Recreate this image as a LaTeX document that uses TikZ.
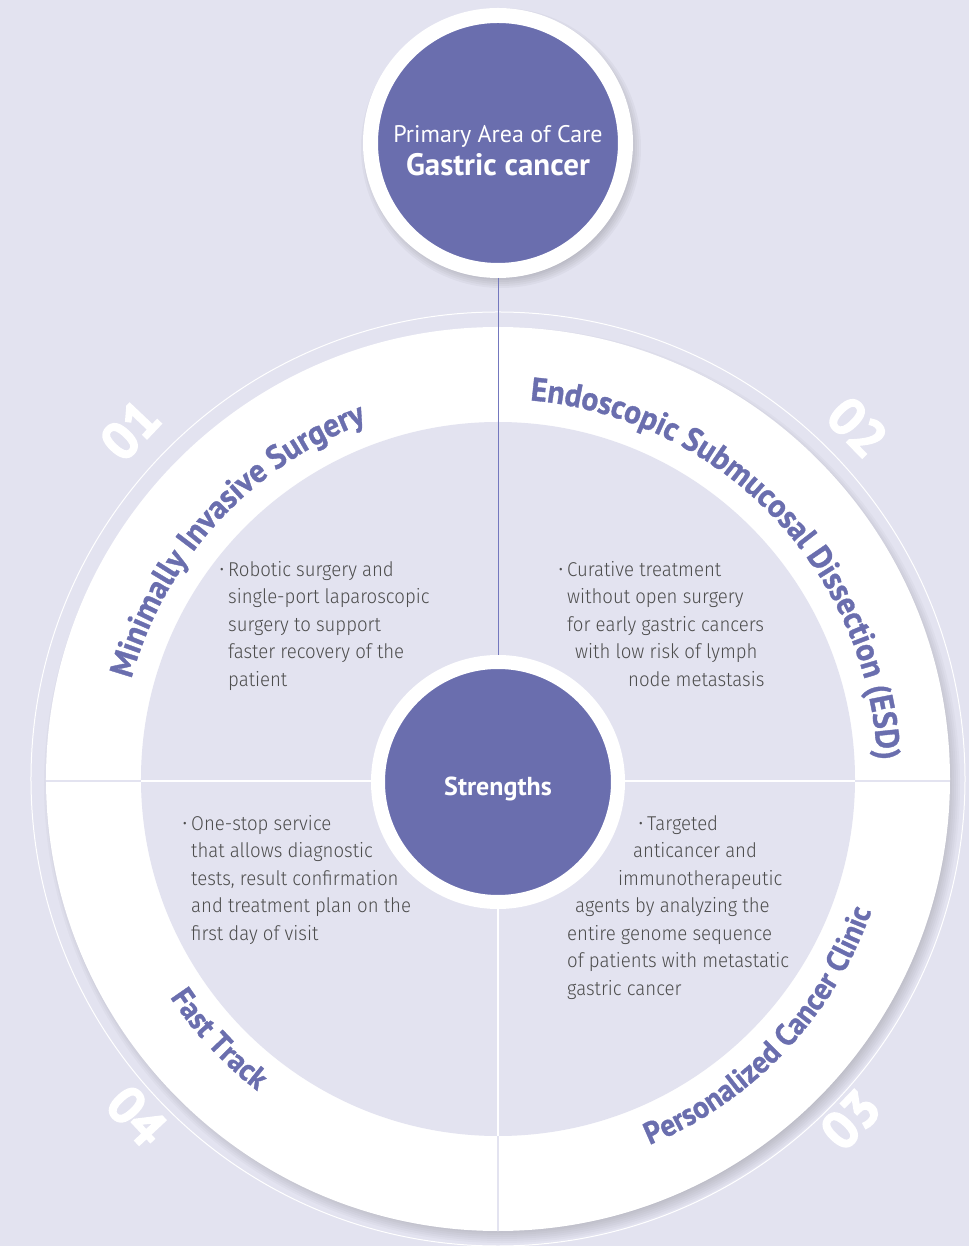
\documentclass[tikz,border=0pt]{standalone}
\usepackage{fontspec}
\usepackage{tikz}
\usetikzlibrary{decorations.text, positioning}
\setmainfont{PT Sans}
\newfontfamily\arcfam{PT Sans}[UprightFont={* Bold}, FakeStretch=0.95, FakeBold=1]
\newfontfamily\heavyfont{PT Sans}[UprightFont={* Bold}, FakeBold=3]
\IfFontExistsTF{Fira Sans Light}
  {\newfontfamily\bodyfont{Fira Sans Light}[FakeStretch=0.93]}
  {\newfontfamily\bodyfont{Fira Sans}[FakeStretch=0.93]}
\definecolor{Lilac}{HTML}{6A6EAE}
\definecolor{Mist}{HTML}{E3E3F0}
\definecolor{Ink}{HTML}{4D4D4D}
\definecolor{Wire}{HTML}{7478BE}
\newcommand\arcfont{\arcfam\fontsize{33}{36}\selectfont}
\newcommand\lowarcfont{\arcfam\fontsize{31}{34}\selectfont}
\newcommand\dotitem{\llap{\raisebox{1pt}{\fontsize{17}{17}\selectfont\textbullet}\hspace{4pt}}}

\begin{document}
\begin{tikzpicture}[x=1pt, y=1pt,
    hub/.style={circle, fill=Lilac, draw=white, inner sep=0pt, text=white, align=center},
    blurb/.style={anchor=north west, align=left, inner sep=0pt, text=Ink, font=\bodyfont\fontsize{20}{27.5}\selectfont},
    numeral/.style={text=white, font=\heavyfont\fontsize{52}{52}\selectfont, inner sep=0pt},
    arclabel/.style={decorate, decoration={text along path, text align=center, text color=Lilac, text={|\arcfont|#1}}},
    lowarclabel/.style={decorate, decoration={text along path, text align=center, text color=Lilac, text={|\lowarcfont|#1}}}
  ]
  \fill[Mist] (-498,-467) rectangle (471,779);
  \useasboundingbox (-498,-467) rectangle (471,779);
  \foreach \k in {0,...,7}
    \fill[black, opacity=0.025] (4,-6) circle[radius=444+2*\k];
  \draw[white, line width=1pt] (0,0) circle[radius=467];
  \fill[white] (0,0) circle[radius=452];
  \fill[Mist] (0,0) circle[radius=357];
  \draw[Mist, line width=2pt] (-452,-2) -- (452,-2) (0,-2) -- (0,-452);
  \draw[white, line width=2pt] (-357,-2) -- (357,-2) (0,-2) -- (0,-357);
  \foreach \k in {0,...,6}
    \fill[black, opacity=0.03] (3,631) circle[radius=128+2*\k];

  \node[hub, line width=15pt, minimum size=255pt] (care) at (0,636) {};
  \node[text=white, align=center, inner sep=0pt] (caretext) at (0,628)
    {{\fontsize{24}{26}\selectfont Primary Area of Care}\\[5pt]
     {\bfseries\fontsize{31}{32}\selectfont Gastric cancer}};
  \node[hub, line width=14pt, minimum size=240pt, text height=28pt, text depth=0pt,
        font=\bfseries\fontsize{26}{28}\selectfont] (strengths) at (0,-3) {Strengths};
  \draw[Wire, line width=1pt] (care) -- (strengths);

  \path[arclabel=Minimally Invasive Surgery] (175:380) arc[start angle=175, end angle=100, radius=380];
  \path[arclabel=Endoscopic Submucosal Dissection (ESD)] (94:380) arc[start angle=94, end angle=-6, radius=380];
  \path[lowarclabel=Personalized Cancer Clinic] (-88:396) arc[start angle=-88, end angle=1, radius=396];
  \path[lowarclabel=Fast Track] (195:394) arc[start angle=195, end angle=251, radius=394];

  \node[numeral, rotate=46.5] (n1) at (136.5:507) {01};
  \node[numeral, rotate=-45.6] (n2) at (44.4:503) {02};
  \node[numeral, rotate=46] (n3) at (-44:490) {03};
  \node[numeral, rotate=-47] (n4) at (223:494) {04};

  \node[blurb] (surgery) at (-270,218) {\dotitem Robotic surgery and\\single-port laparoscopic\\surgery to support\\faster recovery of the\\patient};
  \node[blurb] (esd) at (69,218) {\dotitem Curative treatment\\without open surgery\\for early gastric cancers\\\hspace*{8pt}with low risk of lymph\\\hspace*{61pt}node metastasis};
  \node[blurb] (fasttrack) at (-307,-36) {\dotitem One-stop service\\that allows diagnostic\\tests, result confirmation\\and treatment plan on the\\first day of visit};
  \node[blurb] (clinic) at (69,-36) {\hspace*{80pt}\dotitem Targeted\\\hspace*{66pt}anticancer and\\\hspace*{51pt}immunotherapeutic\\\hspace*{8pt}agents by analyzing the\\entire genome sequence\\of patients with metastatic\\gastric cancer};
\end{tikzpicture}
\end{document}
